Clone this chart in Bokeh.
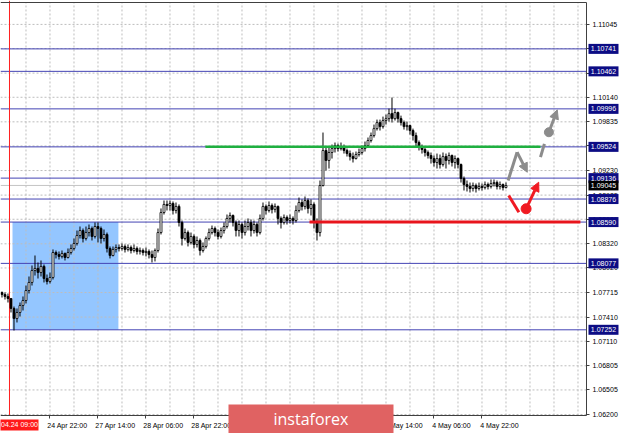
from bokeh.plotting import figure
from bokeh.models import (Range1d, FixedTicker, Arrow, NormalHead, LinearAxis,
                          ColumnDataSource, PrintfTickFormatter)
from bokeh.core.properties import value
from bokeh.embed import file_html
from bokeh.resources import INLINE

# ---------------- data (EURUSD H1, one value per candle) ----------------
first_open = 1.07715
closes = [
    1.07690, 1.07666, 1.07641, 1.07517, 1.07392, 1.07467, 1.07554, 1.07616, 1.07740, 1.07840,
    1.07988, 1.08014, 1.07964, 1.08039, 1.07889, 1.07852, 1.07902, 1.08212, 1.08187, 1.08163,
    1.08200, 1.08150, 1.08212, 1.08262, 1.08324, 1.08423, 1.08485, 1.08386, 1.08460, 1.08510,
    1.08411, 1.08535, 1.08510, 1.08386, 1.08436, 1.08262, 1.08175, 1.08250, 1.08274, 1.08262,
    1.08287, 1.08250, 1.08274, 1.08237, 1.08262, 1.08225, 1.08237, 1.08212, 1.08225, 1.08187,
    1.08150, 1.08237, 1.08460, 1.08709, 1.08809, 1.08796, 1.08821, 1.08734, 1.08784, 1.08585,
    1.08386, 1.08460, 1.08337, 1.08411, 1.08312, 1.08361, 1.08237, 1.08287, 1.08386, 1.08460,
    1.08510, 1.08460, 1.08411, 1.08485, 1.08535, 1.08635, 1.08672, 1.08585, 1.08485, 1.08560,
    1.08460, 1.08535, 1.08585, 1.08485, 1.08560, 1.08460, 1.08635, 1.08784, 1.08734, 1.08796,
    1.08747, 1.08784, 1.08635, 1.08585, 1.08647, 1.08609, 1.08635, 1.08609, 1.08734, 1.08833,
    1.08784, 1.08858, 1.08759, 1.08809, 1.08585, 1.08460, 1.09044, 1.09479, 1.09355, 1.09454,
    1.09503, 1.09541, 1.09503, 1.09528, 1.09479, 1.09441, 1.09404, 1.09379, 1.09429, 1.09454,
    1.09503, 1.09541, 1.09603, 1.09665, 1.09751, 1.09826, 1.09776, 1.09851, 1.09875, 1.09937,
    1.09875, 1.09950, 1.09875, 1.09826, 1.09776, 1.09789, 1.09727, 1.09665, 1.09578, 1.09528,
    1.09491, 1.09454, 1.09417, 1.09379, 1.09330, 1.09379, 1.09305, 1.09404, 1.09355, 1.09417,
    1.09330, 1.09379, 1.09305, 1.09131, 1.09056, 1.09032, 1.09007, 1.09044, 1.09007, 1.09032,
    1.09019, 1.09056, 1.09032, 1.09069, 1.09081, 1.09032, 1.09056, 1.09019, 1.09044,
]
highs = [
    1.07728, 1.07715, 1.07703, 1.07641, 1.07541, 1.07517, 1.07591, 1.07666, 1.07802, 1.07914,
    1.08051, 1.08175, 1.08088, 1.08113, 1.08063, 1.07939, 1.07964, 1.08250, 1.08237, 1.08225,
    1.08237, 1.08212, 1.08262, 1.08312, 1.08386, 1.08485, 1.08535, 1.08510, 1.08535, 1.08560,
    1.08535, 1.08585, 1.08585, 1.08535, 1.08498, 1.08460, 1.08287, 1.08287, 1.08312, 1.08312,
    1.08324, 1.08312, 1.08312, 1.08299, 1.08312, 1.08287, 1.08274, 1.08262, 1.08274, 1.08250,
    1.08237, 1.08262, 1.08510, 1.08759, 1.08858, 1.08858, 1.08858, 1.08846, 1.08833, 1.08809,
    1.08609, 1.08510, 1.08485, 1.08460, 1.08436, 1.08411, 1.08386, 1.08337, 1.08411, 1.08510,
    1.08547, 1.08535, 1.08498, 1.08522, 1.08585, 1.08684, 1.08709, 1.08684, 1.08609, 1.08609,
    1.08585, 1.08609, 1.08635, 1.08622, 1.08609, 1.08585, 1.08684, 1.08833, 1.08809, 1.08846,
    1.08821, 1.08821, 1.08796, 1.08660, 1.08684, 1.08672, 1.08684, 1.08660, 1.08796, 1.08895,
    1.08871, 1.08908, 1.08883, 1.08871, 1.08833, 1.08635, 1.09106, 1.09702, 1.09528, 1.09516,
    1.09553, 1.09578, 1.09565, 1.09578, 1.09553, 1.09503, 1.09479, 1.09454, 1.09466, 1.09503,
    1.09541, 1.09590, 1.09640, 1.09702, 1.09801, 1.09863, 1.09863, 1.09900, 1.09925, 1.09999,
    1.10137, 1.09999, 1.09962, 1.09912, 1.09851, 1.09838, 1.09801, 1.09751, 1.09702, 1.09603,
    1.09553, 1.09528, 1.09479, 1.09454, 1.09417, 1.09441, 1.09429, 1.09454, 1.09441, 1.09454,
    1.09429, 1.09417, 1.09392, 1.09317, 1.09156, 1.09106, 1.09081, 1.09081, 1.09069, 1.09081,
    1.09069, 1.09094, 1.09081, 1.09119, 1.09119, 1.09106, 1.09094, 1.09069, 1.09081,
]
lows = [
    1.07653, 1.07628, 1.07591, 1.07467, 1.07243, 1.07343, 1.07417, 1.07492, 1.07579, 1.07703,
    1.07802, 1.07926, 1.07889, 1.07914, 1.07840, 1.07815, 1.07827, 1.07877, 1.08138, 1.08125,
    1.08138, 1.08113, 1.08138, 1.08187, 1.08237, 1.08299, 1.08386, 1.08337, 1.08361, 1.08411,
    1.08361, 1.08386, 1.08337, 1.08324, 1.08349, 1.08212, 1.08138, 1.08163, 1.08212, 1.08225,
    1.08237, 1.08212, 1.08225, 1.08200, 1.08212, 1.08187, 1.08187, 1.08175, 1.08163, 1.08138,
    1.08088, 1.08101, 1.08212, 1.08436, 1.08684, 1.08734, 1.08734, 1.08684, 1.08697, 1.08535,
    1.08299, 1.08361, 1.08287, 1.08312, 1.08262, 1.08274, 1.08175, 1.08212, 1.08262, 1.08361,
    1.08436, 1.08411, 1.08374, 1.08386, 1.08448, 1.08510, 1.08585, 1.08535, 1.08411, 1.08411,
    1.08386, 1.08423, 1.08485, 1.08411, 1.08448, 1.08411, 1.08436, 1.08609, 1.08684, 1.08709,
    1.08697, 1.08709, 1.08560, 1.08510, 1.08560, 1.08560, 1.08572, 1.08560, 1.08585, 1.08709,
    1.08734, 1.08747, 1.08697, 1.08672, 1.08510, 1.08361, 1.08411, 1.09032, 1.09230, 1.09255,
    1.09379, 1.09454, 1.09466, 1.09479, 1.09441, 1.09404, 1.09355, 1.09330, 1.09367, 1.09404,
    1.09429, 1.09466, 1.09516, 1.09578, 1.09640, 1.09727, 1.09727, 1.09751, 1.09801, 1.09838,
    1.09826, 1.09851, 1.09826, 1.09789, 1.09739, 1.09727, 1.09677, 1.09603, 1.09528, 1.09479,
    1.09441, 1.09404, 1.09379, 1.09317, 1.09280, 1.09255, 1.09255, 1.09280, 1.09255, 1.09305,
    1.09280, 1.09255, 1.09255, 1.09081, 1.08982, 1.08970, 1.08957, 1.08970, 1.08957, 1.08982,
    1.08982, 1.08995, 1.08995, 1.09007, 1.09032, 1.08995, 1.08995, 1.08982, 1.09007,
]

# horizontal levels (navy lines with boxed labels)
levels = [1.10741, 1.10462, 1.09996, 1.09524, 1.09136, 1.08876, 1.08590, 1.08077, 1.07252]
bid_price = 1.09045
green_level, green_from, green_to = 1.09524, 67.8, 179.5
red_level, red_from, red_to = 1.08590, 102.5, 192.8
zone_left, zone_right, zone_top, zone_bottom = 3.5, 38.8, 1.08590, 1.07252
vline_index = 2.5
vline_label = "04.24 09:00"

# price scale ticks
price_ticks = [1.06200, 1.06505, 1.06805, 1.07110, 1.07410, 1.07715, 1.08020, 1.08320,
               1.08625, 1.08925, 1.09230, 1.09535, 1.09835, 1.10140, 1.10440, 1.10745, 1.11045]
# time scale labels (candle index -> label)
time_ticks = [16, 32, 48, 64, 80, 96, 112, 128, 144, 160]
time_labels = ["24 Apr 22:00", "27 Apr 14:00", "28 Apr 06:00", "28 Apr 22:00", "29 Apr 14:00",
               "30 Apr 06:00", "30 Apr 22:00", "1 May 14:00", "4 May 06:00", "4 May 22:00"]

# forecast drawings (candle index, price)
gray_path_x = [168.7, 171.7]
gray_path_y = [1.09106, 1.09458]
gray_arrow1 = (171.7, 1.09458, 175.1, 1.09209)
gray_dash_x = [179.5, 180.8]
gray_dash_y = [1.09396, 1.09562]
gray_dot = (182.3, 1.09706)
gray_arrow2 = (182.3, 1.09706, 185.1, 1.09984)
red_path_x = [168.9, 172.3]
red_path_y = [1.08920, 1.08713]
red_dot = (174.7, 1.08755)
red_arrow = (174.7, 1.08755, 178.9, 1.09085)

# ---------------- layout constants (chart window) ----------------
X_LEFT, X_PLOT_RIGHT, X_RIGHT = -0.5, 194.83, 206.17      # candle-index space
Y_TOP, Y_PLOT_TOP, Y_PLOT_BOTTOM, Y_BOTTOM = 1.11342, 1.11317, 1.06188, 1.05964
LABEL_X = 200.5            # centre of boxed price labels
TIME_BOX = (5.83, 1.06070)
LOGO = dict(left=75.5, right=130.5, top=1.06324, bottom=Y_BOTTOM, tx=103.0, ty=1.06144)

FONT = "Liberation Sans"
NAVY_BOX = "#0C0C84"
LINE_NAVY = "#4444B4"
GRID = "#BDBDBD"
BORDER = "#404040"

p = figure(width=620, height=433, output_backend="svg", toolbar_location=None,
           x_range=Range1d(X_LEFT, X_RIGHT), y_range=Range1d(Y_BOTTOM, Y_TOP),
           x_axis_location=None, y_axis_location=None,
           min_border=0, min_border_left=0, min_border_right=0,
           min_border_top=0, min_border_bottom=0,
           background_fill_color="white", border_fill_color="white")
p.outline_line_color = None
p.xgrid.visible = False
p.ygrid.visible = False

# blue zone
p.quad(left=[zone_left], right=[zone_right], top=[zone_top], bottom=[zone_bottom],
       fill_color="#94C6FF", line_color=None)

# dotted grid within the chart area
grid_ticks = list(range(8, 195, 8))
p.segment(x0=grid_ticks, y0=[Y_PLOT_BOTTOM] * len(grid_ticks), x1=grid_ticks,
          y1=[Y_PLOT_TOP] * len(grid_ticks), line_color=GRID, line_dash="2 2", line_width=1)
p.segment(x0=[X_LEFT] * len(price_ticks), y0=price_ticks, x1=[X_PLOT_RIGHT] * len(price_ticks),
          y1=price_ticks, line_color=GRID, line_dash="2 2", line_width=1)

# horizontal levels, bid line, vertical time line
p.segment(x0=[X_LEFT] * len(levels), y0=levels, x1=[X_PLOT_RIGHT] * len(levels), y1=levels,
          line_color=LINE_NAVY, line_width=1)
p.segment(x0=[X_LEFT], y0=[bid_price], x1=[X_PLOT_RIGHT], y1=[bid_price],
          line_color="#C4C4C4", line_width=1)
p.segment(x0=[vline_index], y0=[Y_PLOT_BOTTOM], x1=[vline_index], y1=[Y_TOP],
          line_color="#FF2020", line_width=1)
# top border of the chart window
p.segment(x0=[X_LEFT], y0=[Y_PLOT_TOP], x1=[X_PLOT_RIGHT], y1=[Y_PLOT_TOP],
          line_color=BORDER, line_width=1)

# candles
idx = list(range(len(closes)))
opens = [first_open] + closes[:-1]
src = ColumnDataSource(dict(
    x=idx, o=opens, c=closes,
    h=[max(h, o, c) for h, o, c in zip(highs, opens, closes)],
    l=[min(l, o, c) for l, o, c in zip(lows, opens, closes)],
    top=[max(o, c) for o, c in zip(opens, closes)],
    bottom=[min(o, c) for o, c in zip(opens, closes)],
    fill=["white" if c >= o else "black" for o, c in zip(opens, closes)],
))
p.segment(x0="x", y0="l", x1="x", y1="h", source=src, line_color="black", line_width=1)
p.vbar(x="x", width=0.66, top="top", bottom="bottom", fill_color="fill",
       line_color="black", line_width=0.8, source=src)

# green and red levels
p.line([green_from, green_to], [green_level, green_level], line_color="#1FB040", line_width=2.5)
p.line([red_from, red_to], [red_level, red_level], line_color="#E8141C", line_width=3)

# forecast drawings
GRAY = "#8C8C8C"
RED = "#F01A22"
p.line(gray_path_x, gray_path_y, line_color=GRAY, line_width=3)
p.add_layout(Arrow(x_start=gray_arrow1[0], y_start=gray_arrow1[1], x_end=gray_arrow1[2], y_end=gray_arrow1[3],
                   line_color=GRAY, line_width=3,
                   end=NormalHead(size=9, fill_color=GRAY, line_color=GRAY)))
p.line(gray_dash_x, gray_dash_y, line_color=GRAY, line_width=3)
p.scatter([gray_dot[0]], [gray_dot[1]], size=9, fill_color=GRAY, line_color=GRAY)
p.add_layout(Arrow(x_start=gray_arrow2[0], y_start=gray_arrow2[1], x_end=gray_arrow2[2], y_end=gray_arrow2[3],
                   line_color=GRAY, line_width=3,
                   end=NormalHead(size=9, fill_color=GRAY, line_color=GRAY)))
p.line(red_path_x, red_path_y, line_color=RED, line_width=3)
p.scatter([red_dot[0]], [red_dot[1]], size=10, fill_color=RED, line_color=RED)
p.add_layout(Arrow(x_start=red_arrow[0], y_start=red_arrow[1], x_end=red_arrow[2], y_end=red_arrow[3],
                   line_color=RED, line_width=3,
                   end=NormalHead(size=9, fill_color=RED, line_color=RED)))

# ---------------- axes (fixed inside the window) ----------------
ya = LinearAxis(fixed_location=X_PLOT_RIGHT, bounds=(Y_PLOT_BOTTOM, Y_PLOT_TOP),
                ticker=FixedTicker(ticks=price_ticks),
                formatter=PrintfTickFormatter(format="%.5f"))
ya.major_tick_out = 3
ya.major_tick_in = 0
ya.minor_tick_out = 0
ya.minor_tick_in = 0
ya.major_label_standoff = 3
ya.major_label_text_font = FONT
ya.major_label_text_font_size = "7px"
ya.major_label_text_color = "black"
ya.major_tick_line_color = BORDER
ya.axis_line_color = BORDER
p.add_layout(ya, "right")

label_offset = 5.8
xa = LinearAxis(fixed_location=Y_PLOT_BOTTOM, bounds=(X_LEFT, X_PLOT_RIGHT),
                ticker=FixedTicker(ticks=[t + label_offset for t in time_ticks], minor_ticks=time_ticks))
xa.major_label_overrides = {t + label_offset: lab for t, lab in zip(time_ticks, time_labels)}
xa.major_tick_out = 0
xa.major_tick_in = 0
xa.minor_tick_out = 3
xa.minor_tick_in = 0
xa.minor_tick_line_color = BORDER
xa.major_label_standoff = 4
xa.major_label_text_font = FONT
xa.major_label_text_font_size = "7px"
xa.major_label_text_color = "black"
xa.axis_line_color = BORDER
p.add_layout(xa, "below")

# boxed price labels on the price scale (drawn above the axis)
box_src = ColumnDataSource(dict(
    x=[LABEL_X] * (len(levels) + 1),
    y=levels + [bid_price],
    text=[f"{v:.5f}" for v in levels + [bid_price]],
    fill=[NAVY_BOX] * len(levels) + ["black"],
))
p.rect(x="x", y="y", width=30, height=10, width_units="screen", height_units="screen",
       fill_color="fill", line_color=None, source=box_src, level="overlay")
p.text(x="x", y="y", text="text", source=box_src, text_align="center", text_baseline="middle",
       text_color="white", text_font=value(FONT), text_font_size="7px", level="overlay")

# vertical-line time label
p.rect(x=[TIME_BOX[0]], y=[TIME_BOX[1]], width=38, height=11, width_units="screen",
       height_units="screen", fill_color="#FF1A1A", line_color=None, level="overlay")
p.text(x=[TIME_BOX[0]], y=[TIME_BOX[1]], text=[vline_label], text_align="center",
       text_baseline="middle", text_color="white", text_font=value(FONT), text_font_size="7px",
       level="overlay")

# logo
p.quad(left=[LOGO["left"]], right=[LOGO["right"]], top=[LOGO["top"]], bottom=[LOGO["bottom"]],
       fill_color="#E06262", line_color=None, level="overlay")
p.text(x=[LOGO["tx"]], y=[LOGO["ty"]], text=["instaforex"], text_align="center",
       text_baseline="middle", text_color="white", text_font=value("Open Sans"),
       text_font_size="16px", level="overlay")

open("out.html", "w").write(file_html(p, INLINE))
